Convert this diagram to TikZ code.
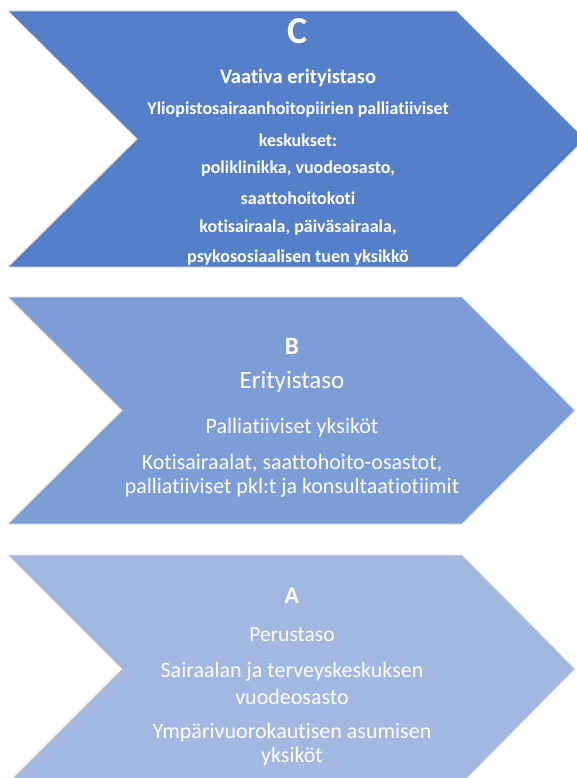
\documentclass[tikz,border=0pt]{standalone}
\usepackage{fontspec}
\setmainfont[Ligatures=CommonOff]{Carlito}
\definecolor{cC}{RGB}{85,127,200}
\definecolor{cB}{RGB}{124,157,214}
\definecolor{cA}{RGB}{162,184,224}
\definecolor{edge}{RGB}{225,225,225}
\begin{document}
\begin{tikzpicture}[x=1pt,y=-1pt,
  chev/.style={draw=edge, line width=0.8pt},
  lbl/.style={text=white, inner sep=0pt, anchor=center}]
\useasboundingbox (0,0) rectangle (577,778);
\begin{scope}
\clip (0,0) rectangle (577,778);
\fill[cC, chev] (8,11) -- (457,11) -- (585,139) -- (457,267) -- (8,267) -- (137,139) -- cycle;
\fill[cB, chev] (8,297) -- (462,297) -- (575,410.5) -- (462,524) -- (8,524) -- (122,410.5) -- cycle;
\fill[cA, chev] (8,555) -- (462,555) -- (575,669) -- (462,783) -- (8,783) -- (122,669) -- cycle;
\end{scope}
% C
\node[lbl, font=\fontsize{38}{40}\selectfont\bfseries] (cl) at (298,31) {C};
\node[lbl, font=\fontsize{20.5}{22}\selectfont\bfseries] (c1) at (298,78) {Vaativa erityistaso};
\node[lbl, font=\fontsize{18}{20}\selectfont\bfseries] (c2) at (298,110) {Yliopistosairaanhoitopiirien palliatiiviset};
\node[lbl, font=\fontsize{18}{20}\selectfont\bfseries] (c3) at (298,140) {keskukset:};
\node[lbl, font=\fontsize{18}{20}\selectfont\bfseries] (c4) at (298,169) {poliklinikka, vuodeosasto,};
\node[lbl, font=\fontsize{18}{20}\selectfont\bfseries] (c5) at (298,198) {saattohoitokoti};
\node[lbl, font=\fontsize{18}{20}\selectfont\bfseries] (c6) at (298,228) {kotisairaala, päiväsairaala,};
\node[lbl, font=\fontsize{18}{20}\selectfont\bfseries] (c7) at (298,258) {psykososiaalisen tuen yksikkö};
% B
\node[lbl, font=\fontsize{25}{27}\selectfont\bfseries] (bl) at (292,346) {B};
\node[lbl, font=\fontsize{25}{27}\selectfont] (b1) at (292,382) {Erityistaso};
\node[lbl, font=\fontsize{22}{24}\selectfont] (b2) at (292,428) {Palliatiiviset yksiköt};
\node[lbl, font=\fontsize{22}{24}\selectfont] (b3) at (292,463) {Kotisairaalat, saattohoito-osastot,};
\node[lbl, font=\fontsize{22}{24}\selectfont] (b4) at (292,488) {palliatiiviset pkl:t ja konsultaatiotiimit};
% A
\node[lbl, font=\fontsize{24}{26}\selectfont\bfseries] (al) at (292,596) {A};
\node[lbl, font=\fontsize{21.5}{23}\selectfont] (a1) at (292,635) {Perustaso};
\node[lbl, font=\fontsize{22}{24}\selectfont] (a2) at (292,672) {Sairaalan ja terveyskeskuksen};
\node[lbl, font=\fontsize{22}{24}\selectfont] (a3) at (292,697) {vuodeosasto};
\node[lbl, font=\fontsize{22}{24}\selectfont] (a4) at (292,733) {Ympärivuorokautisen asumisen};
\node[lbl, font=\fontsize{22}{24}\selectfont] (a5) at (292,757) {yksiköt};
\end{tikzpicture}
\end{document}
